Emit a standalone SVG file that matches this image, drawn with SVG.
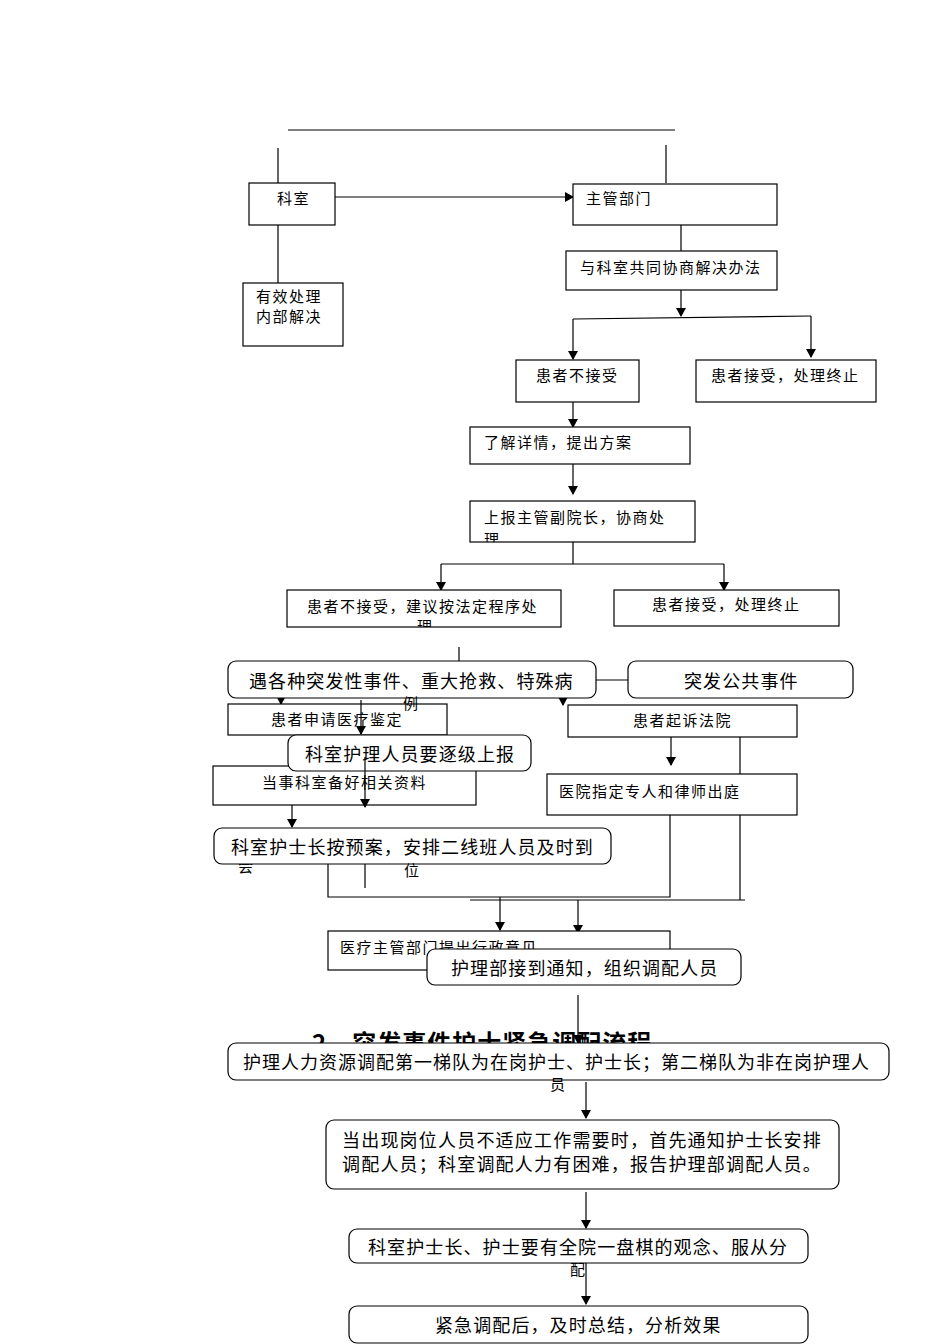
<svg xmlns="http://www.w3.org/2000/svg" width="950" height="1344" viewBox="0 0 950 1344">
<style>
text{font-family:"Noto Sans CJK SC","Liberation Sans",sans-serif;fill:#000}
.s{font-size:15px;letter-spacing:1.5px}.m{font-size:18px;letter-spacing:1.1px}
.b{fill:#fff;stroke:#000;stroke-width:1.2}
.l{stroke:#000;stroke-width:1.2;fill:none}
.a{stroke:#000;stroke-width:1.2;fill:none;marker-end:url(#ar)}
</style>
<defs><marker id="ar" markerWidth="10" markerHeight="10" refX="8" refY="5" orient="auto" markerUnits="userSpaceOnUse"><path d="M0,0L9,5L0,10z" fill="#000"/></marker></defs>
<rect width="950" height="1344" fill="#fff"/>
<g id="connectors">
<path class="l" d="M288,130H675M278,148V183M666,145V183M681,225V251M278,225V283M573,319L811,316M573,542V564M441,564H724M459,647V661M596,680H628M740,705V900M328,864V897H670V815M470,900H745M365,860V888"/>
<path class="a" d="M335,197H573"/><path class="a" d="M681,290V316"/>
<path class="a" d="M573,319V359"/><path class="a" d="M811,316V357"/>
<path class="a" d="M573,402V427"/><path class="a" d="M573,464V494"/>
<path class="a" d="M441,564V590"/><path class="a" d="M724,564V590"/>
<path class="a" d="M281,696V704"/><path class="a" d="M563,696V705"/>
<path class="a" d="M671,737V765"/><path class="a" d="M292,805V827"/>
<path class="a" d="M500,897V930"/><path class="a" d="M578,900V933"/>
</g>
<g id="n1"><rect class="b" x="249" y="183" width="86" height="42"/><text class="s" x="277" y="204">科室</text></g>
<g id="n2"><rect class="b" x="573" y="184" width="204" height="41"/><text class="s" x="586" y="204">主管部门</text></g>
<g id="n3"><rect class="b" x="566" y="251" width="211" height="39"/><text class="s" x="580" y="273">与科室共同协商解决办法</text></g>
<g id="n4"><rect class="b" x="243" y="283" width="100" height="63"/><text class="s" x="256" y="302">有效处理</text><text class="s" x="256" y="322">内部解决</text></g>
<g id="n5"><rect class="b" x="516" y="360" width="123" height="42"/><text class="s" x="536" y="381">患者不接受</text></g>
<g id="n6"><rect class="b" x="696" y="360" width="180" height="42"/><text class="s" x="711" y="381">患者接受，处理终止</text></g>
<g id="n7"><rect class="b" x="470" y="427" width="220" height="37"/><text class="s" x="484" y="448">了解详情，提出方案</text></g>
<g id="n8"><rect class="b" x="470" y="501" width="225" height="41"/><text class="s" x="484" y="523">上报主管副院长，协商处</text><svg x="470" y="501" width="225" height="41"><text class="s" x="14" y="44">理</text></svg></g>
<g id="n9"><rect class="b" x="287" y="590" width="274" height="37"/><text class="s" x="307" y="612">患者不接受，建议按法定程序处</text><svg x="287" y="590" width="274" height="37"><text class="s" x="130" y="42">理</text></svg></g>
<g id="n10"><rect class="b" x="614" y="590" width="225" height="36"/><text class="s" x="652" y="610">患者接受，处理终止</text></g>
<g id="n11"><rect class="b" x="228" y="704" width="219" height="31"/><text class="s" x="271" y="725">患者申请医疗鉴定</text></g>
<g id="n12"><rect class="b" x="568" y="705" width="229" height="32"/><text class="s" x="633" y="726">患者起诉法院</text></g>
<g id="n13"><rect class="b" x="213" y="766" width="263" height="39"/><text class="s" x="262" y="788">当事科室备好相关资料</text></g>
<g id="n14"><rect class="b" x="547" y="774" width="250" height="41"/><text class="s" x="559" y="797">医院指定专人和律师出庭</text></g>
<g id="n15"><rect class="b" x="328" y="931" width="342" height="39"/><text class="s" x="340" y="953">医疗主管部门提出行政意见</text></g>
<text class="s" x="238" y="872">会</text>
<g id="r1"><rect class="b" x="228" y="661" width="368" height="37" rx="8"/><text class="m" x="249" y="688">遇各种突发性事件、重大抢救、特殊病</text><text class="s" x="403" y="709">例</text></g>
<g id="r2"><rect class="b" x="628" y="661" width="225" height="37" rx="8"/><text class="m" x="684" y="688">突发公共事件</text></g>
<path class="a" d="M361,700V734"/>
<g id="r3"><rect class="b" x="288" y="735" width="243" height="36" rx="8"/><text class="m" x="305" y="761">科室护理人员要逐级上报</text></g>
<path class="a" d="M365,757V807"/>
<g id="r4"><rect class="b" x="214" y="828" width="397" height="36" rx="8"/><text class="m" x="231" y="854">科室护士长按预案，安排二线班人员及时到</text><text class="s" x="404" y="876">位</text></g>
<g id="r5"><rect class="b" x="427" y="949" width="314" height="36" rx="8"/><text class="m" x="451" y="975">护理部接到通知，组织调配人员</text></g>
<path class="a" d="M578,995V1043"/>
<text x="312" y="1052" style="font-size:24px;font-weight:bold;letter-spacing:1px">2、突发事件护士紧急调配流程</text>
<g id="r6"><rect class="b" x="228" y="1043" width="661" height="37" rx="8"/><text class="m" x="243" y="1069" style="letter-spacing:1px">护理人力资源调配第一梯队为在岗护士、护士长；第二梯队为非在岗护理人</text><text class="s" x="550" y="1090">员</text></g>
<path class="a" d="M586,1082V1118"/>
<g id="r7"><rect class="b" x="326" y="1120" width="513" height="69" rx="8"/><text class="m" x="342" y="1147" style="letter-spacing:1.2px">当出现岗位人员不适应工作需要时，首先通知护士长安排</text><text class="m" x="342" y="1171" style="letter-spacing:1.2px">调配人员；科室调配人力有困难，报告护理部调配人员。</text></g>
<path class="a" d="M586,1192V1228"/>
<g id="r8"><rect class="b" x="349" y="1229" width="459" height="34" rx="8"/><text class="m" x="368" y="1254">科室护士长、护士要有全院一盘棋的观念、服从分</text><text class="s" x="570" y="1275">配</text></g>
<path class="a" d="M586,1263V1304"/>
<g id="r9"><rect class="b" x="349" y="1306" width="459" height="37" rx="8"/><text class="m" x="435" y="1332">紧急调配后，及时总结，分析效果</text></g>
</svg>
